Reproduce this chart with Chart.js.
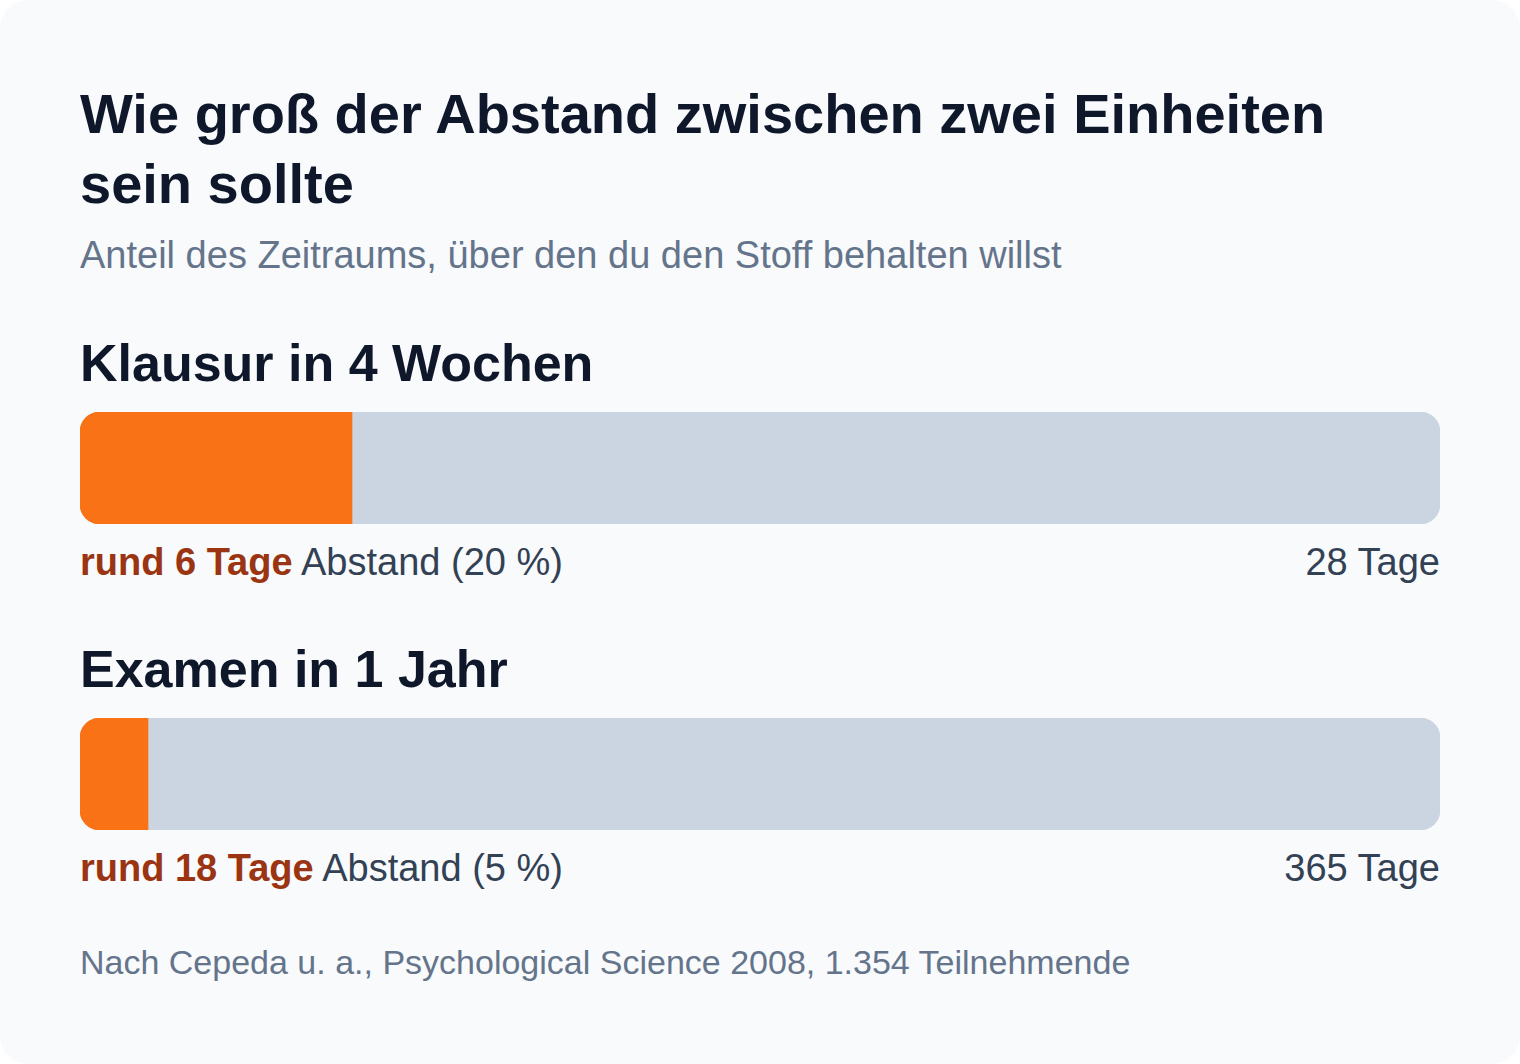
<!DOCTYPE html>
<html lang="de">
<head>
<meta charset="utf-8">
<script src="https://cdn.jsdelivr.net/npm/chart.js@4"></script>
<style>
  html, body { margin: 0; padding: 0; background: #ffffff; }
  body { width: 1520px; height: 1064px; overflow: hidden; font-family: "Liberation Sans", Arial, sans-serif; }
  .card { position: relative; width: 1520px; height: 1064px; background: #f8fafc; border-radius: 28px; }
  .abs { position: absolute; left: 80px; white-space: nowrap; }
  .title { top: 79px; font-size: 56px; line-height: 70px; font-weight: 700; color: #0f172a; }
  .subtitle { top: 236px; font-size: 38px; line-height: 38px; color: #64748b; }
  .heading { font-size: 52px; line-height: 52px; font-weight: 700; color: #0f172a; }
  .bar { width: 1360px; height: 112px; }
  .label { width: 1360px; font-size: 38px; line-height: 38px; color: #334155; display: flex; justify-content: space-between; }
  .label b { color: #9a3412; }
  .note { top: 945px; font-size: 34px; line-height: 34px; color: #64748b; }
</style>
</head>
<body>
<div class="card" id="card">
  <div class="abs title">Wie groß der Abstand zwischen zwei Einheiten<br>sein sollte</div>
  <div class="abs subtitle">Anteil des Zeitraums, über den du den Stoff behalten willst</div>
  <div class="abs note">Nach Cepeda u. a., Psychological Science 2008, 1.354 Teilnehmende</div>
</div>
<script>
// Daten
const sections  = ['Klausur in 4 Wochen', 'Examen in 1 Jahr'];
const gapDays   = [6, 18];
const gapPct    = [20, 5];
const totalDays = [28, 365];

const ORANGE = '#f97316';
const TRACK  = '#cbd5e1';
const STEP   = 306;   // vertical distance between the two blocks

const card = document.getElementById('card');

sections.forEach((name, i) => {
  const off = i * STEP;

  const h = document.createElement('div');
  h.className = 'abs heading';
  h.style.top = (337 + off) + 'px';
  h.textContent = name;
  card.appendChild(h);

  const wrap = document.createElement('div');
  wrap.className = 'abs bar';
  wrap.style.top = (412 + off) + 'px';
  const canvas = document.createElement('canvas');
  canvas.width = 1360; canvas.height = 112;
  canvas.style.width = '1360px'; canvas.style.height = '112px';
  wrap.appendChild(canvas);
  card.appendChild(wrap);

  const lab = document.createElement('div');
  lab.className = 'abs label';
  lab.style.top = (543 + off) + 'px';
  lab.innerHTML = `<span><b>rund ${gapDays[i]} Tage</b> Abstand (${gapPct[i]} %)</span><span>${totalDays[i]} Tage</span>`;
  card.appendChild(lab);

  new Chart(canvas, {
    type: 'bar',
    data: {
      labels: [name],
      datasets: [
        {
          data: [gapPct[i]],
          backgroundColor: ORANGE,
          grouped: false, order: 0,
          borderSkipped: false,
          borderRadius: { topLeft: 20, bottomLeft: 20, topRight: 0, bottomRight: 0 },
          barPercentage: 1, categoryPercentage: 1,
        },
        {
          data: [100],
          backgroundColor: TRACK,
          grouped: false, order: 1,
          borderSkipped: false,
          borderRadius: 20,
          barPercentage: 1, categoryPercentage: 1,
        },
      ],
    },
    options: {
      indexAxis: 'y',
      responsive: false, animation: false,
      devicePixelRatio: 1,
      layout: { padding: 0 },
      plugins: { legend: { display: false }, tooltip: { enabled: false } },
      scales: {
        x: { display: false, min: 0, max: 100 },
        y: { display: false },
      },
    },
  });
});
</script>
</body>
</html>
